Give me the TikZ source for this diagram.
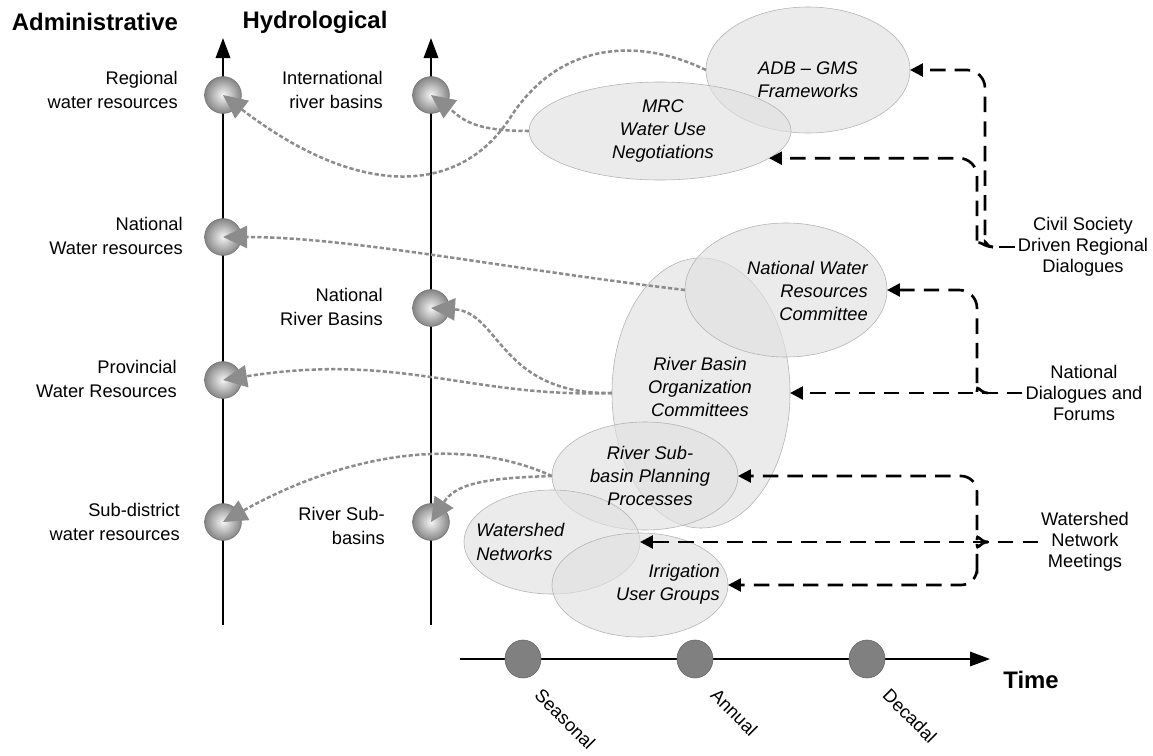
\documentclass[tikz,border=0pt]{standalone}
\usepackage{fontspec}
\setmainfont{Liberation Sans}
\usetikzlibrary{arrows.meta,shapes.geometric}
\tikzset{
  lbl/.style={align=right, anchor=east, inner sep=0pt, font=\fontsize{13}{17}\selectfont},
  rlbl/.style={align=center, inner sep=2pt, font=\fontsize{13}{15}\selectfont},
  head/.style={inner sep=0pt, font=\fontsize{17}{20}\selectfont\bfseries},
  etext/.style={inner sep=0pt, font=\fontsize{13}{16.5}\selectfont\itshape},
  blob/.style={ellipse, draw=black!30, fill=black!12, fill opacity=0.65, inner sep=0pt, outer sep=0pt},
  ball/.style={circle, minimum size=0.92cm, inner sep=0pt, shading=radial, inner color=black!4, outer color=black!48, draw=black!55},
  tdot/.style={ellipse, minimum width=0.9cm, minimum height=0.95cm, inner sep=0pt, fill=black!50, draw=black!60},
  axisline/.style={line width=1.4pt, -{Triangle[length=0.5cm,width=0.36cm]}},
  grayarrow/.style={draw=black!45, line width=1.8pt, dash pattern=on 3pt off 1.6pt, -{Triangle[length=0.6cm,width=0.55cm]}},
  dasharrow/.style={line width=1.9pt, dash pattern=on 11pt off 6.5pt, -{Triangle[length=0.32cm,width=0.32cm]}},
  dashline/.style={line width=1.9pt, dash pattern=on 11pt off 6.5pt},
  tlbl/.style={rotate=-45, anchor=west, inner sep=0pt, font=\fontsize{13}{15}\selectfont}
}

\begin{document}
\begin{tikzpicture}[x=0.025cm, y=-0.025cm]
			%%%%% START %%%%%
			\useasboundingbox (0,0) rectangle (1153,756);

			\node[head] (adminhead) at (95,22) {Administrative};
			\node[head] (hydrohead) at (315,22) {Hydrological};

			% the two scales
			\coordinate (abot) at (223,625);
			\coordinate (atop) at (223,38);
			\coordinate (hbot) at (431,625);
			\coordinate (htop) at (431,38);
			\draw[axisline] (abot) -- (atop);
			\draw[axisline] (hbot) -- (htop);

			\node[ball] (ra) at (223,95) {};
			\node[ball] (na) at (223,237) {};
			\node[ball] (pa) at (223,380) {};
			\node[ball] (sa) at (223,522) {};
			\node[ball] (hi) at (431,95) {};
			\node[ball] (hn) at (431,308) {};
			\node[ball] (hs) at (431,522) {};

			\node[lbl] (lreg) at (178,90) {Regional\\water resources};
			\node[lbl] (lnat) at (183,236) {National\\Water resources};
			\node[lbl] (lprov) at (177,379) {Provincial\\Water Resources};
			\node[lbl] (lsub) at (180,522) {Sub-district\\water resources};
			\node[lbl] (lint) at (383,90) {International\\river basins};
			\node[lbl] (lnrb) at (383,307) {National\\River Basins};
			\node[lbl] (lrsb) at (385,526) {River Sub-\\basins};

			% institutions
			\node[blob, minimum width=5.1cm, minimum height=3.15cm] (adb) at (808,70) {};
			\node[blob, minimum width=6.55cm, minimum height=2.45cm] (mrc) at (660,131) {};
			\node[blob, minimum width=4.45cm, minimum height=6.75cm] (rbo) at (701,393) {};
			\node[blob, minimum width=5.05cm, minimum height=3.35cm] (nwrc) at (786,290) {};
			\node[blob, minimum width=4.65cm, minimum height=2.7cm] (rsb) at (645,476) {};
			\node[blob, minimum width=4.4cm, minimum height=2.6cm] (wsn) at (552,542) {};
			\node[blob, minimum width=4.4cm, minimum height=2.6cm] (irr) at (640,585) {};

			\node[etext, align=center] (adbtxt) at (808,80) {ADB -- GMS\\Frameworks};
			\node[etext, align=center] (mrctxt) at (663,131) {MRC\\Water Use\\Negotiations};
			\node[etext, align=right, anchor=east] (nwrctxt) at (868,291) {National Water\\Resources\\Committee};
			\node[etext, align=center] (rbotxt) at (700,387) {River Basin\\Organization\\Committees};
			\node[etext, align=center] (rsbtxt) at (650,476) {River Sub-\\basin Planning\\Processes};
			\node[etext, align=left, anchor=west] (wsntxt) at (476,542) {Watershed\\Networks};
			\node[etext, align=right, anchor=east] (irrtxt) at (720,584) {Irrigation\\User Groups};

			% links to the scales
			\draw[grayarrow] (adb.west) .. controls (640,38) and (560,40) .. (510,118) .. controls (460,195) and (360,200) .. (ra.center);
			\draw[grayarrow] (mrc.west) .. controls (470,131) and (462,118) .. (hi.center);
			\draw[grayarrow] (nwrc.west) .. controls (500,268) and (350,237) .. (na.center);
			\draw[grayarrow] (rbo.west) .. controls (500,395) and (500,312) .. (hn.center);
			\draw[grayarrow] (rbo.west) .. controls (470,398) and (400,352) .. (pa.center);
			\draw[grayarrow] (rsb.west) .. controls (450,430) and (330,462) .. (sa.center);
			\draw[grayarrow] (rsb.west) .. controls (480,478) and (455,485) .. (hs.center);

			% dialogues
			\node[rlbl] (civ) at (1083,247) {Civil Society\\Driven Regional\\Dialogues};
			\node[rlbl] (nat) at (1084,393) {National\\Dialogues and\\Forums};
			\node[rlbl] (wsm) at (1085,542) {Watershed\\Network\\Meetings};

			\coordinate (civtip) at (993,247);
			\coordinate (natjoin) at (988,393);
			\coordinate (wsjoin) at (988,542);

			\draw[dashline] (civ.west) -- (civtip);
			\draw[dasharrow, rounded corners=0.45cm] (civtip) to[out=180,in=-90] (985,228) |- (adb.east);
			\draw[dasharrow, rounded corners=0.45cm] (civtip) to[out=180,in=-90] (977,228) |- (mrc.-14);

			\draw[dasharrow] (nat.west) -- (rbo.east);
			\draw[dasharrow, rounded corners=0.45cm] (natjoin) to[out=180,in=-90] (977,374) |- (nwrc.east);

			\draw[dasharrow] (wsm.west) -- (wsn.east);
			\draw[dasharrow, rounded corners=0.4cm] (wsjoin) to[out=180,in=-90] (977,524) |- (rsb.east);
			\draw[dasharrow, rounded corners=0.4cm] (wsjoin) to[out=180,in=90] (977,560) |- (irr.east);

			% time scale
			\coordinate (tstart) at (460,659);
			\coordinate (tend) at (990,659);
			\draw[axisline] (tstart) -- (tend);
			\node[tdot] (ts) at (523,659) {};
			\node[tdot] (ta) at (695,659) {};
			\node[tdot] (td) at (867,659) {};
			\node[head] (timelbl) at (1031,680) {Time};

			\node[tlbl] (seas) at ([shift={(15,33)}]ts) {Seasonal};
			\node[tlbl] (ann) at ([shift={(19,33)}]ta) {Annual};
			\node[tlbl] (dec) at ([shift={(19,33)}]td) {Decadal};

			%%%%% END %%%%%
\end{tikzpicture}
\end{document}
